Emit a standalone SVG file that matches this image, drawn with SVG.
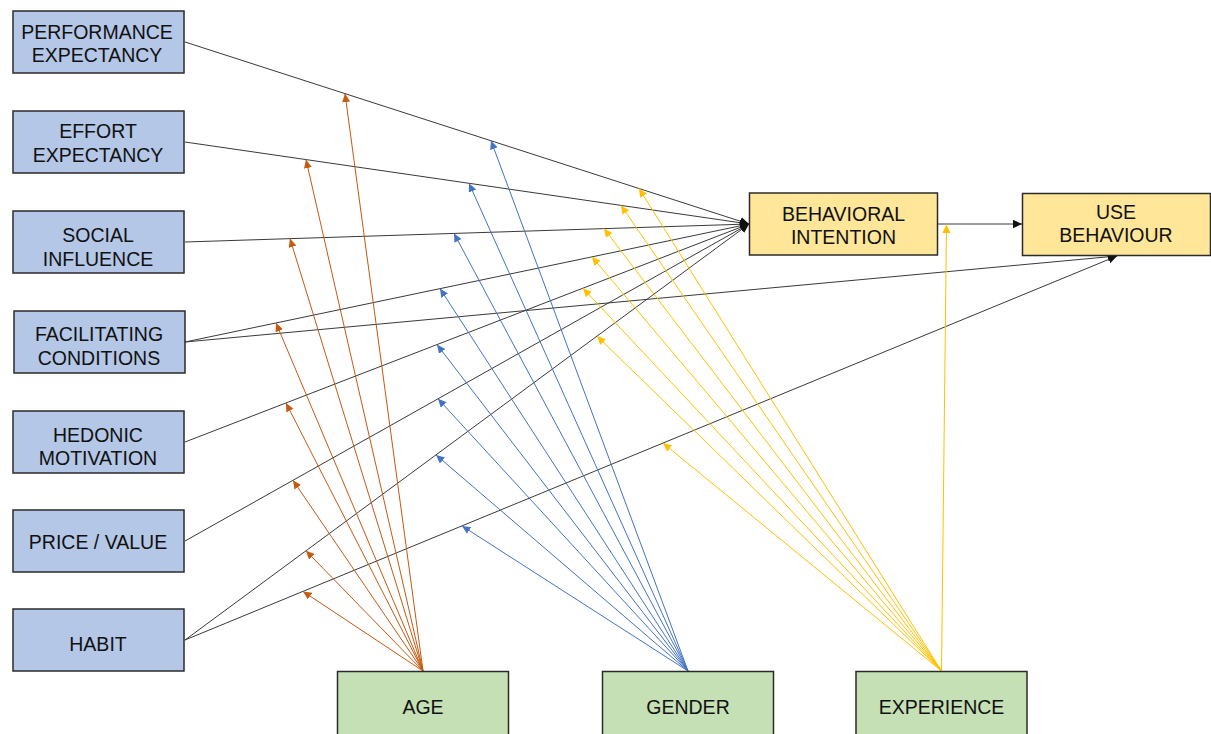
<svg xmlns="http://www.w3.org/2000/svg" width="1211" height="734" viewBox="0 0 1211 734">
  <style>
    .box { stroke: #2b2b2b; stroke-width: 1.5; }
    .cons { fill: #b4c7e7; }
    .outc { fill: #ffe699; }
    .mod { fill: #c5e0b4; }
    text { font-family: "Liberation Sans", Arial, sans-serif; font-size: 19.5px; fill: #111; text-anchor: middle; }
    .path { fill: none; stroke: #3a3a3a; stroke-width: 1; }
    .age { fill: none; stroke: #c55a11; stroke-width: 1; }
    .gen { fill: none; stroke: #4472c4; stroke-width: 1; }
    .exp { fill: none; stroke: #ffc000; stroke-width: 1; }
  </style>
  <defs>
    <marker id="ah-black" markerUnits="userSpaceOnUse" markerWidth="10" markerHeight="9" refX="9" refY="4.25" orient="auto">
      <path d="M0,0 L9,4.25 L0,8.5 Z" fill="#111"/>
    </marker>
    <marker id="ah-age" markerUnits="userSpaceOnUse" markerWidth="10" markerHeight="9" refX="8.5" refY="4" orient="auto">
      <path d="M0,0 L8.5,4 L0,8 Z" fill="#c55a11"/>
    </marker>
    <marker id="ah-gen" markerUnits="userSpaceOnUse" markerWidth="10" markerHeight="9" refX="8.5" refY="4" orient="auto">
      <path d="M0,0 L8.5,4 L0,8 Z" fill="#4472c4"/>
    </marker>
    <marker id="ah-exp" markerUnits="userSpaceOnUse" markerWidth="10" markerHeight="9" refX="8.5" refY="4" orient="auto">
      <path d="M0,0 L8.5,4 L0,8 Z" fill="#ffc000"/>
    </marker>
  </defs>

  <!-- structural paths -->
  <g id="connectors">
    <g id="paths-main">
      <line class="path" x1="185" y1="42" x2="749" y2="224" marker-end="url(#ah-black)"/>
      <line class="path" x1="185" y1="142" x2="749" y2="224" marker-end="url(#ah-black)"/>
      <line class="path" x1="185" y1="242" x2="749" y2="224" marker-end="url(#ah-black)"/>
      <line class="path" x1="185" y1="342" x2="749" y2="224" marker-end="url(#ah-black)"/>
      <line class="path" x1="185" y1="442" x2="749" y2="224" marker-end="url(#ah-black)"/>
      <line class="path" x1="185" y1="541" x2="749" y2="224" marker-end="url(#ah-black)"/>
      <line class="path" x1="185" y1="640" x2="749" y2="224" marker-end="url(#ah-black)"/>
      <line class="path" x1="185" y1="342" x2="1117" y2="256" marker-end="url(#ah-black)"/>
      <line class="path" x1="185" y1="640" x2="1117" y2="256" marker-end="url(#ah-black)"/>
      <line class="path" x1="938" y1="224" x2="1022" y2="224" marker-end="url(#ah-black)"/>
    </g>

    <!-- moderation by age -->
    <g id="mod-age">
      <line class="age" x1="423" y1="671" x2="345" y2="93.6" marker-end="url(#ah-age)"/>
      <line class="age" x1="423" y1="671" x2="306" y2="159.6" marker-end="url(#ah-age)"/>
      <line class="age" x1="423" y1="671" x2="290" y2="238.6" marker-end="url(#ah-age)"/>
      <line class="age" x1="423" y1="671" x2="276" y2="323" marker-end="url(#ah-age)"/>
      <line class="age" x1="423" y1="671" x2="286" y2="403" marker-end="url(#ah-age)"/>
      <line class="age" x1="423" y1="671" x2="293" y2="480.3" marker-end="url(#ah-age)"/>
      <line class="age" x1="423" y1="671" x2="306" y2="550.8" marker-end="url(#ah-age)"/>
      <line class="age" x1="423" y1="671" x2="303" y2="591.4" marker-end="url(#ah-age)"/>
    </g>

    <!-- moderation by gender -->
    <g id="mod-gender">
      <line class="gen" x1="688" y1="671" x2="491" y2="140.7" marker-end="url(#ah-gen)"/>
      <line class="gen" x1="688" y1="671" x2="469" y2="183.3" marker-end="url(#ah-gen)"/>
      <line class="gen" x1="688" y1="671" x2="454" y2="233.4" marker-end="url(#ah-gen)"/>
      <line class="gen" x1="688" y1="671" x2="440" y2="288.6" marker-end="url(#ah-gen)"/>
      <line class="gen" x1="688" y1="671" x2="437" y2="344.6" marker-end="url(#ah-gen)"/>
      <line class="gen" x1="688" y1="671" x2="438" y2="398.8" marker-end="url(#ah-gen)"/>
      <line class="gen" x1="688" y1="671" x2="436" y2="454.9" marker-end="url(#ah-gen)"/>
      <line class="gen" x1="688" y1="671" x2="462" y2="525.9" marker-end="url(#ah-gen)"/>
    </g>

    <!-- moderation by experience -->
    <g id="mod-experience">
      <line class="exp" x1="941.5" y1="671" x2="639" y2="188.5" marker-end="url(#ah-exp)"/>
      <line class="exp" x1="941.5" y1="671" x2="621" y2="205.4" marker-end="url(#ah-exp)"/>
      <line class="exp" x1="941.5" y1="671" x2="604" y2="228.6" marker-end="url(#ah-exp)"/>
      <line class="exp" x1="941.5" y1="671" x2="592" y2="256.8" marker-end="url(#ah-exp)"/>
      <line class="exp" x1="941.5" y1="671" x2="583" y2="288.2" marker-end="url(#ah-exp)"/>
      <line class="exp" x1="941.5" y1="671" x2="597" y2="336.1" marker-end="url(#ah-exp)"/>
      <line class="exp" x1="941.5" y1="671" x2="663" y2="443.1" marker-end="url(#ah-exp)"/>
      <line class="exp" x1="941.5" y1="671" x2="946.5" y2="224.5" marker-end="url(#ah-exp)"/>
    </g>
  </g>

  <!-- constructs -->
  <g id="performance-expectancy">
    <rect class="box cons" x="13" y="11" width="171" height="62"/>
    <text x="97" y="39">PERFORMANCE</text>
    <text x="97" y="62">EXPECTANCY</text>
  </g>
  <g id="effort-expectancy">
    <rect class="box cons" x="13" y="111" width="171" height="62"/>
    <text x="98" y="138">EFFORT</text>
    <text x="98" y="162">EXPECTANCY</text>
  </g>
  <g id="social-influence">
    <rect class="box cons" x="13" y="211" width="171" height="62"/>
    <text x="98" y="242">SOCIAL</text>
    <text x="98" y="265.5">INFLUENCE</text>
  </g>
  <g id="facilitating-conditions">
    <rect class="box cons" x="14" y="311" width="171" height="62"/>
    <text x="99" y="341">FACILITATING</text>
    <text x="99" y="364.5">CONDITIONS</text>
  </g>
  <g id="hedonic-motivation">
    <rect class="box cons" x="13" y="411" width="171" height="62"/>
    <text x="98" y="441.5">HEDONIC</text>
    <text x="98" y="465">MOTIVATION</text>
  </g>
  <g id="price-value">
    <rect class="box cons" x="13" y="510" width="171" height="62"/>
    <text x="98" y="548.5">PRICE / VALUE</text>
  </g>
  <g id="habit">
    <rect class="box cons" x="13" y="609" width="171" height="62"/>
    <text x="98" y="651">HABIT</text>
  </g>

  <!-- outcomes -->
  <g id="behavioral-intention">
    <rect class="box outc" x="749.5" y="193" width="188" height="62"/>
    <text x="843.5" y="220.5">BEHAVIORAL</text>
    <text x="843.5" y="243.5">INTENTION</text>
  </g>
  <g id="use-behaviour">
    <rect class="box outc" x="1022.5" y="193.5" width="188" height="62"/>
    <text x="1116" y="219">USE</text>
    <text x="1116" y="242">BEHAVIOUR</text>
  </g>

  <!-- moderators -->
  <g id="age">
    <rect class="box mod" x="337.5" y="671.5" width="171" height="64"/>
    <text x="423" y="714">AGE</text>
  </g>
  <g id="gender">
    <rect class="box mod" x="602.5" y="671.5" width="171" height="64"/>
    <text x="688" y="714">GENDER</text>
  </g>
  <g id="experience">
    <rect class="box mod" x="856" y="671.5" width="171" height="64"/>
    <text x="941.5" y="713.5">EXPERIENCE</text>
  </g>
</svg>
